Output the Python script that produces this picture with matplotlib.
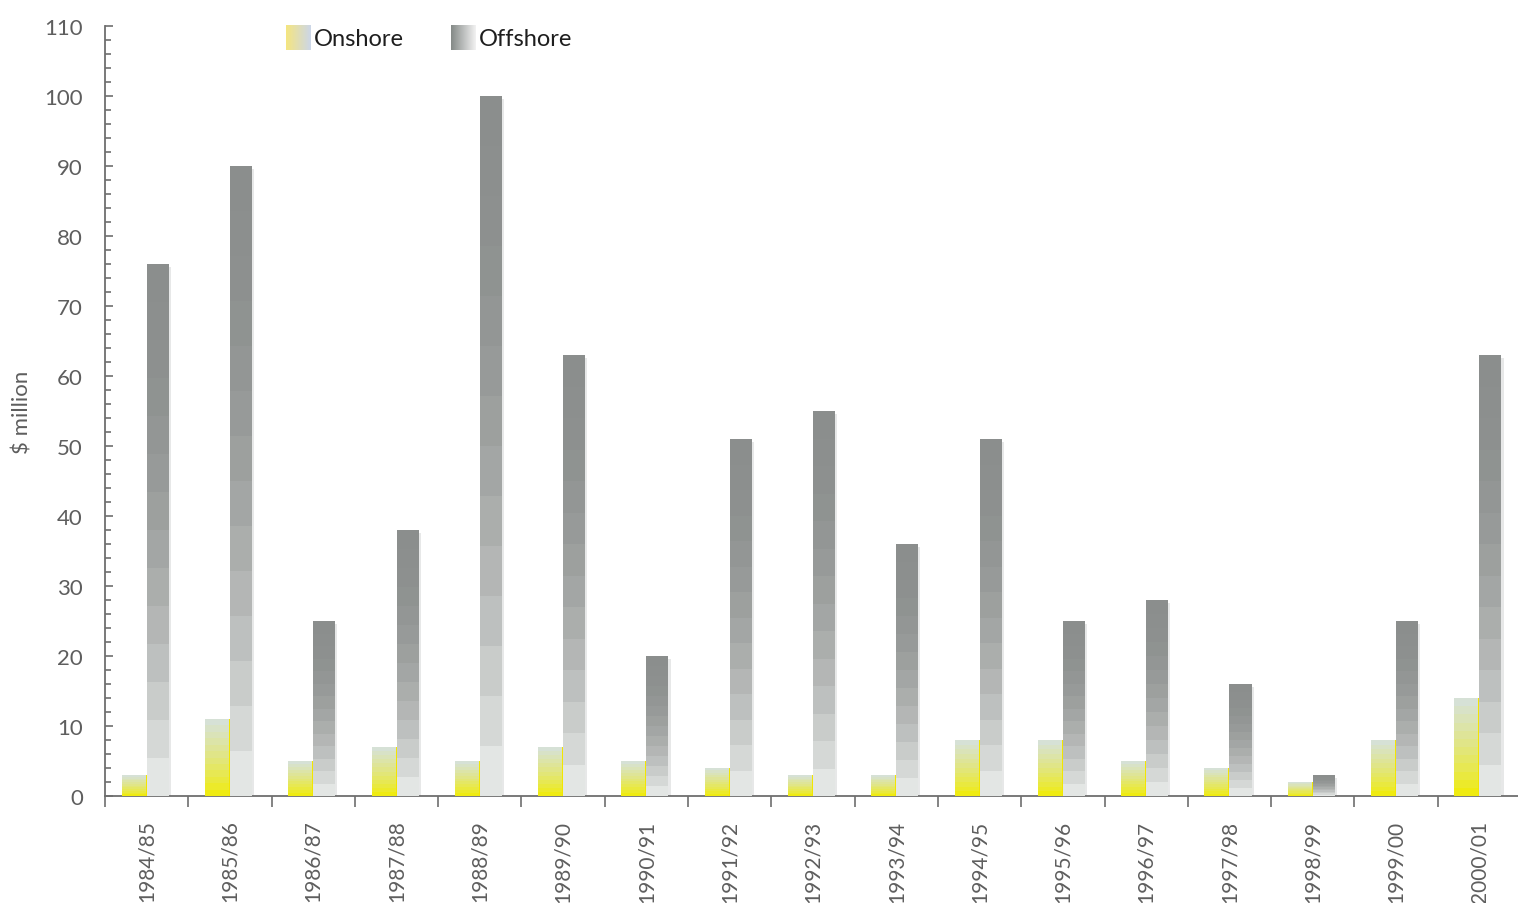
import numpy as np
import matplotlib
matplotlib.use("Agg")
import matplotlib.pyplot as plt
from matplotlib.ticker import MultipleLocator, FixedLocator, NullFormatter

# data ($ million)
years = ["1984/85", "1985/86", "1986/87", "1987/88", "1988/89", "1989/90",
         "1990/91", "1991/92", "1992/93", "1993/94", "1994/95", "1995/96",
         "1996/97", "1997/98", "1998/99", "1999/00", "2000/01"]
onshore = [3, 11, 5, 7, 5, 7, 5, 4, 3, 3, 8, 8, 5, 4, 2, 8, 14]
offshore = [76, 90, 25, 38, 100, 63, 20, 51, 55, 36, 51, 25, 28, 16, 3, 25, 63]

plt.rcParams['font.family'] = ['Lato', 'DejaVu Sans']
TXT = "#5e5e5e"

fig = plt.figure(figsize=(15.18, 9.04), dpi=100)
W, H = 1518.0, 904.0
ax = fig.add_axes([105 / W, (H - 797) / H, (1521 - 105) / W, (797 - 27) / H])

x = np.arange(len(years))

# offshore: light at bottom, dark at top, in bands
off_light = np.array([0.918, 0.929, 0.922])
off_dark = np.array([0.545, 0.557, 0.553])
n_off = 14
# onshore: yellow at bottom, pale grey-blue at top
on_low = np.array([0.945, 0.925, 0.0])
on_high = np.array([0.835, 0.882, 0.870])
n_on = 12

for i, xi in enumerate(x):
    h = offshore[i]
    seg = h / n_off
    for k in range(n_off):
        t = (k + 0.5) / n_off
        f = (1 - t) ** 2.2
        col = off_dark + (off_light - off_dark) * f
        ax.bar(xi, seg, bottom=k * seg, width=0.265, align='edge',
               color=col, linewidth=0, zorder=3)
    # soft shadow on the right
    ax.bar(xi + 0.265, h - 0.4, width=0.025, align='edge',
           color="#e7e8e8", linewidth=0, zorder=2)

    h = onshore[i]
    seg = h / n_on
    for k in range(n_on):
        t = (k + 0.5) / n_on
        f = t ** 0.8
        col = on_low + (on_high - on_low) * f
        ax.bar(xi - 0.3, seg, bottom=k * seg, width=0.3, align='edge',
               color=col, linewidth=0, zorder=3)
    ax.bar(xi - 0.012, h, width=0.012, align='edge',
           color="#f2e600", linewidth=0, zorder=4)

ax.set_xlim(-0.5, len(years) - 0.5)
ax.set_ylim(0, 110)

for s in ['top', 'right']:
    ax.spines[s].set_visible(False)
for s in ['left', 'bottom']:
    ax.spines[s].set_color("#6e6e6e")
    ax.spines[s].set_linewidth(1.3)

ax.yaxis.set_major_locator(MultipleLocator(10))
ax.yaxis.set_minor_locator(MultipleLocator(2))
ax.tick_params(axis='y', which='both', direction='in', color="#6e6e6e",
               width=1.2, labelsize=16, labelcolor=TXT, pad=16)
ax.tick_params(axis='y', which='major', length=6)
ax.tick_params(axis='y', which='minor', length=4)

# x: tick marks at group boundaries, labels at centres
ax.xaxis.set_major_locator(FixedLocator(np.arange(len(years) + 1) - 0.5))
ax.xaxis.set_major_formatter(NullFormatter())
ax.xaxis.set_minor_locator(FixedLocator(x))
ax.set_xticklabels(years, minor=True, rotation=90)
ax.tick_params(axis='x', which='major', direction='out', length=8,
               width=1.2, color="#6e6e6e")
ax.tick_params(axis='x', which='minor', length=0, labelsize=15,
               labelcolor=TXT, pad=17)

ax.set_ylabel("$ million", fontsize=16, color=TXT)
ax.yaxis.set_label_coords(-0.051, 0.5)

# legend with gradient swatches
grad = np.linspace(0, 1, 64).reshape(1, -1)
sw_on = fig.add_axes([286 / W, (H - 51) / H, 25 / W, 25 / H])
on_a = np.array([0.96, 0.90, 0.50])
on_b = np.array([0.80, 0.84, 0.91])
sw_on.imshow((on_a + (on_b - on_a) * grad[..., None]), aspect='auto')
sw_on.axis('off')
fig.text(314 / W, (H - 39) / H, "Onshore", fontsize=17, color="#1e1e1e",
         va='center', ha='left')

sw_off = fig.add_axes([451 / W, (H - 51) / H, 25 / W, 25 / H])
off_a = np.array([0.52, 0.54, 0.53])
off_b = np.array([0.95, 0.95, 0.95])
sw_off.imshow((off_a + (off_b - off_a) * grad[..., None]), aspect='auto')
sw_off.axis('off')
fig.text(479 / W, (H - 39) / H, "Offshore", fontsize=17, color="#1e1e1e",
         va='center', ha='left')

fig.savefig("out.png", dpi=100)
